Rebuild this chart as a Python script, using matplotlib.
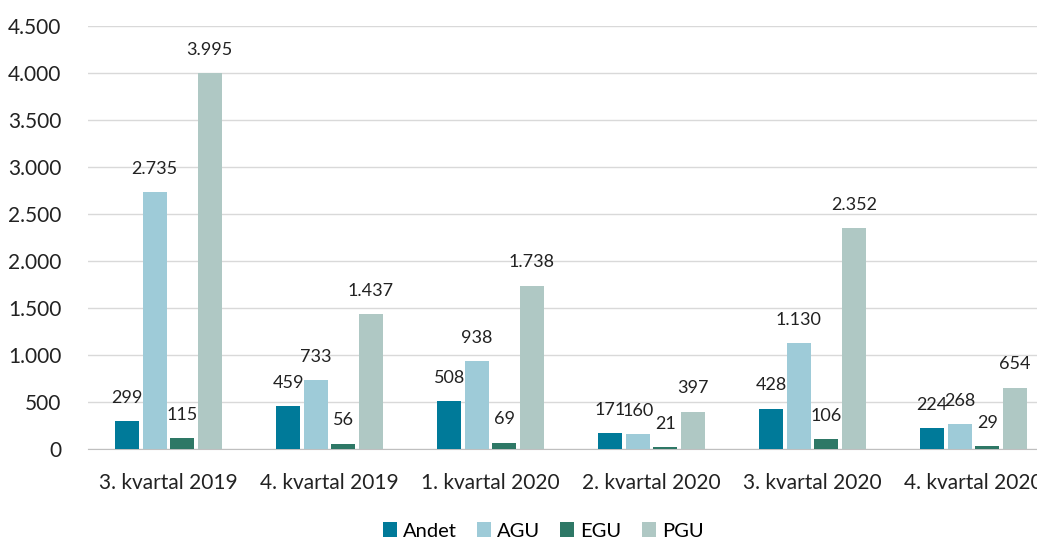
import matplotlib
matplotlib.use("Agg")
import matplotlib.pyplot as plt
import numpy as np
from matplotlib.ticker import FuncFormatter

categories = ["3. kvartal 2019", "4. kvartal 2019", "1. kvartal 2020",
              "2. kvartal 2020", "3. kvartal 2020", "4. kvartal 2020"]
series_names = ["Andet", "AGU", "EGU", "PGU"]
andet = [299, 459, 508, 171, 428, 224]
agu = [2735, 733, 938, 160, 1130, 268]
egu = [115, 56, 69, 21, 106, 29]
pgu = [3995, 1437, 1738, 397, 2352, 654]
colors = ["#007A99", "#9ECBD8", "#2E7866", "#AFC8C4"]

plt.rcParams['font.family'] = ['Lato', 'DejaVu Sans']

fig = plt.figure(figsize=(10.37, 5.42), dpi=100)
ax = fig.add_axes([88/1037, 93/542, 966/1037, 423/542])

def fmt(v):
    return f"{int(round(v)):,}".replace(",", ".")

x = np.arange(len(categories))
step = 27.5/161
width = 24/161
for i, (name, vals) in enumerate(zip(series_names, [andet, agu, egu, pgu])):
    bars = ax.bar(x + (i - 1.5)*step, vals, width, color=colors[i], label=name, zorder=3)
    ax.bar_label(bars, labels=[fmt(v) for v in vals], padding=11, fontsize=13, color="#222222")

ax.set_xlim(-0.5, len(categories) - 0.5)
ax.set_ylim(0, 4500)
ax.set_yticks(np.arange(0, 4501, 500))
ax.yaxis.set_major_formatter(FuncFormatter(lambda v, p: fmt(v)))
ax.set_xticks(x)
ax.set_xticklabels(categories)
ax.tick_params(axis='both', length=0, labelsize=15, colors="#222222")
ax.tick_params(axis='x', pad=17)
ax.tick_params(axis='y', pad=19)
ax.grid(axis='y', color="#D9D9D9", linewidth=1, zorder=0)
for s in ['top', 'right', 'left']:
    ax.spines[s].set_visible(False)
ax.spines['bottom'].set_color("#BFBFBF")

fig.legend(loc='center', bbox_to_anchor=(543/1037, 1 - 531/542), ncol=4, frameon=False,
           fontsize=14.5, handlelength=0.7, handleheight=0.7, handletextpad=0.3, columnspacing=1.0)

fig.savefig("out.png", dpi=100)
